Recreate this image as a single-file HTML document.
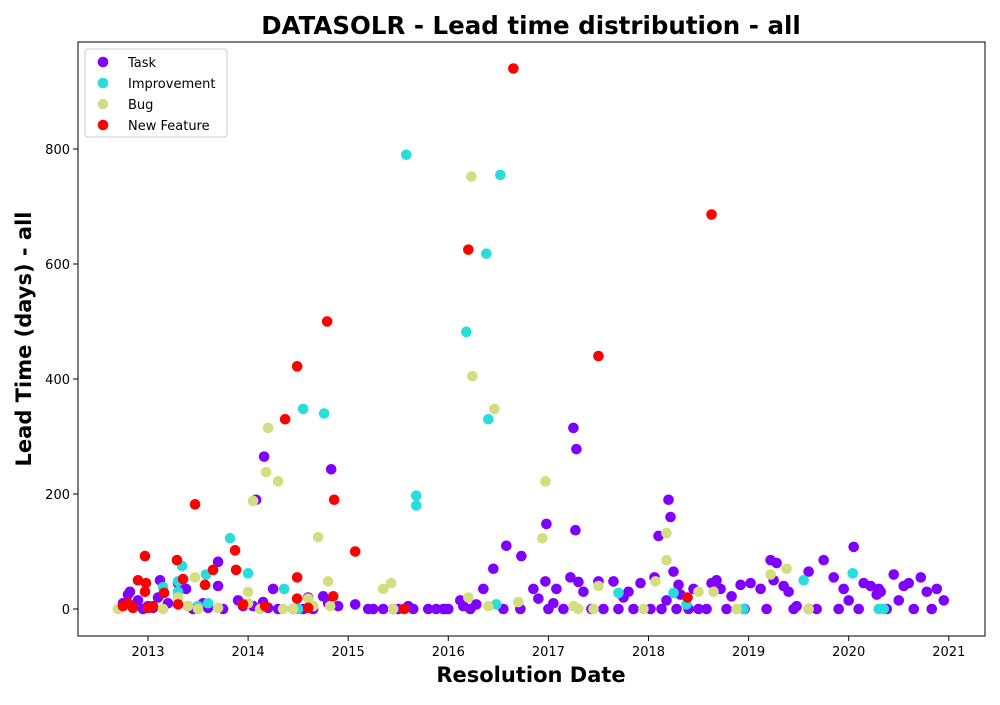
<!DOCTYPE html>
<html><head><meta charset="utf-8"><style>
body{margin:0;background:#fff;font-family:"Liberation Sans","DejaVu Sans",sans-serif}
svg text{font-family:"DejaVu Sans","Liberation Sans",sans-serif}
</style></head><body>
<svg id="chart" width="1000" height="700" viewBox="0 0 1000 700" xmlns="http://www.w3.org/2000/svg">
<rect width="1000" height="700" fill="#fff"/>
<text x="531" y="34" text-anchor="middle" font-size="24.5" font-weight="bold">DATASOLR - Lead time distribution - all</text>
<text x="531" y="682" text-anchor="middle" font-size="21" font-weight="bold">Resolution Date</text>
<text transform="translate(31,339) rotate(-90)" text-anchor="middle" font-size="21" font-weight="bold">Lead Time (days) - all</text>
<g id="ticks"></g>
<g id="marks"></g>
<rect x="78" y="42" width="907" height="594" fill="none" stroke="#000" stroke-width="1"/>
<g id="legend"></g>
</svg>
<script>
const xTicks=[2013,2014,2015,2016,2017,2018,2019,2020,2021];
const yTicks=[0,200,400,600,800];
const seriesNames=["Task","Improvement","Bug","New Feature"];
const seriesColors=["#8000ff","#2adddd","#d4dd80","#ff0000"];
const taskX=[2014.16,2014.08,2014.83,2016.73,2016.58,2017.25,2017.28,2017.27,2016.98,2018.2,2018.22,2018.1,2020.05,2013.7,
2012.75,2012.8,2012.82,2012.85,2012.9,2012.95,2013.0,2013.05,2013.1,2013.12,2013.2,2013.3,2013.38,2013.4,2013.45,2013.55,2013.6,2013.7,2013.75,2013.9,2013.95,2014.05,2014.15,2014.2,2014.25,2014.3,2014.45,2014.55,2014.6,2014.65,2014.75,2014.8,2014.9,2015.07,2015.2,2015.25,2015.35,2015.45,2015.5,2015.6,2015.65,2015.8,2015.88,2015.97,2016.12,2016.15,2016.22,2016.28,2016.35,2016.45,2016.55,2016.72,2016.85,2016.9,2016.97,2017.05,2017.08,2017.15,2017.22,2017.3,2017.35,2017.43,2017.5,2017.55,2017.65,2017.7,2017.75,2017.8,2017.85,2017.92,2018.02,2018.06,2018.13,2018.18,2018.25,2018.28,2018.32,2018.4,2018.45,2018.58,2018.63,2018.68,2018.72,2018.78,2018.83,2018.92,2018.96,2019.02,2019.12,2019.18,2019.22,2019.25,2019.28,2019.35,2019.4,2019.45,2019.48,2019.6,2019.68,2019.75,2019.85,2019.9,2019.95,2020.0,2020.1,2020.15,2020.22,2020.28,2020.32,2020.38,2020.45,2020.5,2020.55,2020.6,2020.65,2020.72,2020.78,2020.83,2020.88,2020.95,2018.3,2019.6,2020.3,2017.0,2016.0,2015.95,2018.5];
const taskY=[265,190,243,92,110,315,278,137,148,190,160,127,108,82,
10,25,30,5,15,0,5,2,20,50,10,45,35,5,0,10,2,40,0,15,5,5,12,2,35,0,0,0,20,0,22,10,5,8,0,0,0,0,0,5,0,0,0,0,15,5,0,8,35,70,0,0,35,18,48,10,35,0,55,47,30,0,48,0,48,0,20,30,0,45,0,55,0,15,65,0,25,0,35,0,45,50,35,0,22,42,0,45,35,0,85,50,80,40,30,0,5,65,0,85,55,0,35,15,0,45,40,25,30,0,60,15,40,45,0,55,30,0,35,15,42,0,35,0,0,0,0,0,0];
const impX=[2015.58,2016.52,2016.38,2016.18,2016.4,2014.55,2014.76,2015.68,2015.68,2013.82,2014.0,2013.34,2013.58,2013.3,2013.15,2014.36,2018.25,2017.7,2018.38,2018.95,2019.55,2020.04,2020.3,2020.35,2016.48,2013.6,2014.5,2013.3,2013.5];
const impY=[790,755,618,482,330,348,340,197,180,123,62,75,60,48,38,35,28,28,8,0,50,62,0,0,8,10,0,30,5];
const bugX=[2016.23,2016.24,2016.46,2014.2,2014.18,2014.3,2014.05,2014.7,2016.97,2016.94,2018.18,2018.18,2018.07,2014.8,2013.47,2015.35,2015.43,2016.2,2016.7,2019.38,2019.22,2018.5,2017.5,2013.3,2014.0,2014.0,2014.6,2012.7,2013.15,2013.4,2013.5,2013.7,2014.12,2014.35,2014.45,2014.65,2014.82,2015.45,2016.4,2017.25,2017.3,2017.45,2017.95,2018.88,2019.6,2018.65];
const bugY=[752,405,348,315,238,222,188,125,222,123,132,85,48,48,55,35,45,20,12,70,60,30,40,20,30,10,18,0,0,5,0,2,0,0,0,5,5,0,5,5,0,0,0,0,0,30];
const nfX=[2016.65,2018.63,2016.2,2014.79,2017.5,2014.49,2014.37,2014.86,2013.47,2015.07,2013.87,2012.97,2013.29,2013.65,2013.88,2013.35,2012.9,2012.98,2014.49,2013.57,2013.16,2012.97,2014.85,2014.49,2018.39,2013.95,2014.17,2013.3,2012.75,2012.8,2012.85,2013.05,2014.6,2015.56,2013.0];
const nfY=[940,686,625,500,440,422,330,190,182,100,102,92,85,68,68,52,50,45,55,42,28,30,22,18,20,8,5,8,5,10,2,5,2,0,2];
const NS="http://www.w3.org/2000/svg";
const L=78,R=985,T=42,B=636;
function xs(v){return 148+(v-2013)*100.1;}
function ys(v){return 609-v*0.575;}
const ticks=document.getElementById('ticks');
xTicks.forEach(t=>{
 const l=document.createElementNS(NS,'line');
 l.setAttribute('x1',xs(t));l.setAttribute('x2',xs(t));l.setAttribute('y1',B);l.setAttribute('y2',B+5);l.setAttribute('stroke','#000');
 
 
 ticks.appendChild(l);
 const tx=document.createElementNS(NS,'text');
 tx.setAttribute('x',xs(t));tx.setAttribute('y',B+20);tx.setAttribute('text-anchor','middle');tx.setAttribute('font-size','13');tx.textContent=t;
 
 
 ticks.appendChild(tx);
});
yTicks.forEach(t=>{
 const l=document.createElementNS(NS,'line');
 l.setAttribute('x1',L-5);l.setAttribute('x2',L);l.setAttribute('y1',ys(t));l.setAttribute('y2',ys(t));l.setAttribute('stroke','#000');
 
 
 ticks.appendChild(l);
 const tx=document.createElementNS(NS,'text');
 tx.setAttribute('x',L-8);tx.setAttribute('y',ys(t)+5);tx.setAttribute('text-anchor','end');tx.setAttribute('font-size','13');tx.textContent=t;
 
 
 ticks.appendChild(tx);
});
const marks=document.getElementById('marks');
const all=[[taskX,taskY],[impX,impY],[bugX,bugY],[nfX,nfY]];
all.forEach((s,i)=>{
 const g=document.createElementNS(NS,'g');
 
 
 s[0].forEach((x,j)=>{
  const c=document.createElementNS(NS,'circle');
  c.setAttribute('cx',xs(x));c.setAttribute('cy',ys(s[1][j]));c.setAttribute('r',5.3);c.setAttribute('fill',seriesColors[i]);
  
  
  g.appendChild(c);
 });
 marks.appendChild(g);
});
const lg=document.getElementById('legend');
const box=document.createElementNS(NS,'rect');
box.setAttribute('x',85);box.setAttribute('y',49);box.setAttribute('width',142);box.setAttribute('height',88);box.setAttribute('rx',3);
box.setAttribute('fill','#fff');box.setAttribute('stroke','#ccc');


lg.appendChild(box);
seriesNames.forEach((n,i)=>{
 const y=62+i*21;
 const c=document.createElementNS(NS,'circle');
 c.setAttribute('cx',103);c.setAttribute('cy',y);c.setAttribute('r',5.3);c.setAttribute('fill',seriesColors[i]);
 
 
 lg.appendChild(c);
 const t=document.createElementNS(NS,'text');
 t.setAttribute('x',128);t.setAttribute('y',y+5);t.setAttribute('font-size','13');t.textContent=n;
 
 
 lg.appendChild(t);
});
</script>
</body></html>
